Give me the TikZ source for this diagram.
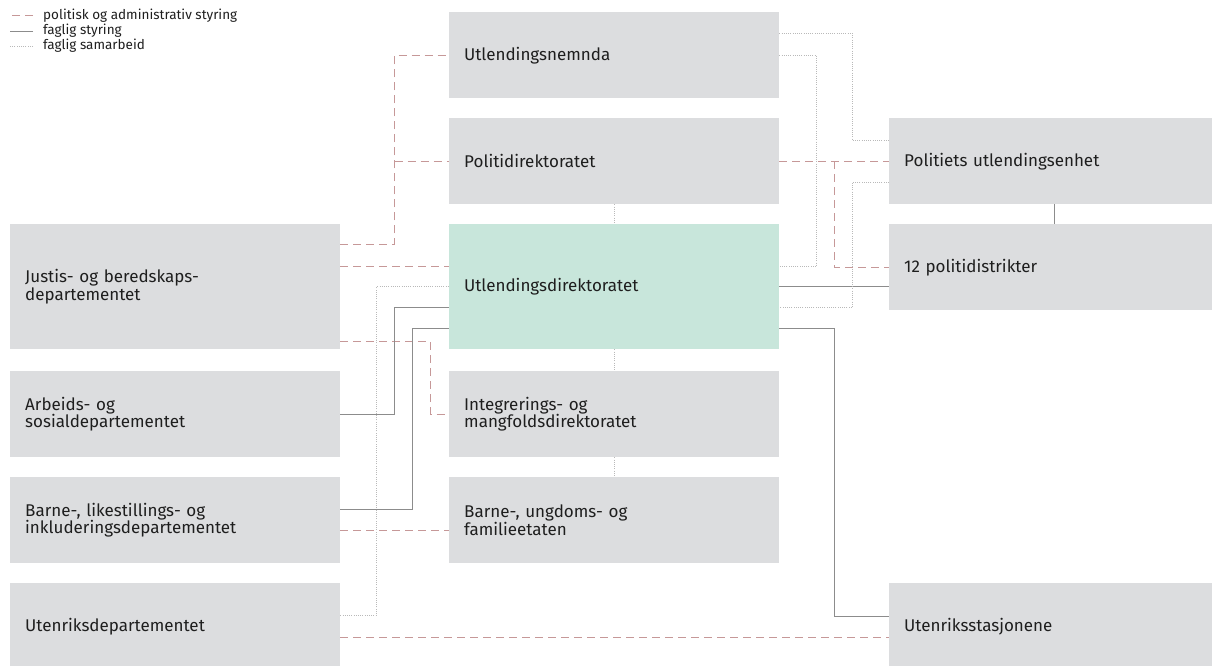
\documentclass[tikz,border=0pt]{standalone}
\usepackage{fontspec}
\setmainfont{Fira Sans}
\usetikzlibrary{calc}
\definecolor{boxgray}{RGB}{220,221,223}
\definecolor{udigreen}{RGB}{200,230,219}
\definecolor{polred}{RGB}{198,152,152}
\definecolor{fagline}{RGB}{140,140,140}
\definecolor{samline}{RGB}{185,185,185}
\definecolor{textdark}{RGB}{30,30,30}

\begin{document}
\begin{tikzpicture}[x=1pt, y=-1pt,
    orgbox/.style={rectangle, fill=boxgray, anchor=north west, text width=300pt, inner xsep=15pt, inner ysep=0pt, minimum height=86pt, align=left, text=textdark, font=\fontsize{17}{15.5}\selectfont},
    tallbox/.style={orgbox, minimum height=125pt},
    pol/.style={polred, line width=1pt, dash pattern=on 8pt off 5pt},
    fag/.style={fagline, line width=0.9pt},
    sam/.style={samline, line width=0.9pt, dash pattern=on 1pt off 1.2pt},
    legtext/.style={anchor=west, inner sep=0pt, text=textdark, font=\fontsize{13.5}{13.5}\selectfont}]
    \useasboundingbox (0,0) rectangle (1212,666);
    \clip (0,0) rectangle (1212,666);

    % Legend
    \node[legtext] (lpol) at (43,16) {politisk og administrativ styring};
    \node[legtext] (lfag) at (43,31) {faglig styring};
    \node[legtext] (lsam) at (43,46) {faglig samarbeid};
    \draw[pol] ([xshift=-10pt]lpol.west) -- ++(-23,0);
    \draw[fag] ([xshift=-10pt]lfag.west) -- ++(-23,0);
    \draw[sam] ([xshift=-10pt]lsam.west) -- ++(-23,0);

    % Middle column
    \node[orgbox] (une) at (449,12) {Utlendingsnemnda};
    \node[orgbox] (pod) at (449,118) {Politidirektoratet};
    \node[tallbox, fill=udigreen] (udi) at (449,224) {Utlendingsdirektoratet};
    \node[orgbox] (imdi) at (449,371) {Integrerings- og\\mangfoldsdirektoratet};
    \node[orgbox] (bufe) at (449,477) {Barne-, ungdoms- og\\familieetaten};

    % Ministries
    \node[tallbox] (jd) at (10,224) {Justis- og beredskaps-\\departementet};
    \node[orgbox] (asd) at (10,371) {Arbeids- og\\sosialdepartementet};
    \node[orgbox] (bld) at (10,477) {Barne-, likestillings- og\\inkluderingsdepartementet};
    \node[orgbox] (ud) at (10,583) {Utenriksdepartementet};

    % Right column
    \node[orgbox] (pu) at (889,118) {Politiets utlendingsenhet};
    \node[orgbox] (pd12) at (889,224) {12 politidistrikter};
    \node[orgbox] (us) at (889,583) {Utenriksstasjonene};

    % Routing columns and ports
    \coordinate (c1) at ($(jd.east)!.5!(udi.west)$);
    \coordinate (c0) at ([xshift=-18pt]c1);
    \coordinate (c2) at ([xshift=18pt]c1);
    \coordinate (c3) at ([xshift=36pt]c1);
    \coordinate (r1) at ($(udi.east)!.5!(pu.west)$);
    \coordinate (r0) at ([xshift=-18pt]r1);
    \coordinate (r2) at ([xshift=18pt]r1);
    \coordinate (udiw1) at ([yshift=20pt]udi.west);
    \coordinate (udiw3) at ([yshift=-21pt]udi.west);
    \coordinate (udiw4) at ([yshift=-42pt]udi.west);
    \coordinate (udie1) at ([yshift=20pt]udi.east);
    \coordinate (udie3) at ([yshift=-21pt]udi.east);
    \coordinate (udie4) at ([yshift=-42pt]udi.east);
    \coordinate (jd1) at ([yshift=-20pt]jd.north east);
    \coordinate (jd3) at ([yshift=8pt]jd.south east);
    \coordinate (bld1) at ([yshift=-32pt]bld.north east);
    \coordinate (bld2) at ([yshift=-53pt]bld.north east);
    \coordinate (ud1) at ([yshift=-32pt]ud.north east);
    \coordinate (ud2) at ([yshift=-54pt]ud.north east);
    \coordinate (us1) at ([yshift=-33pt]us.north west);
    \coordinate (une1) at ([yshift=22pt]une.east);
    \coordinate (pu1) at ([yshift=21pt]pu.west);
    \coordinate (pu2) at ([yshift=-21pt]pu.west);

    % politisk og administrativ styring
    \draw[pol] (jd1) -| (c1 |- une.west) -- (une.west);
    \draw[pol] (c1 |- pod.west) -- (pod.west);
    \draw[pol] (udiw1 -| jd.east) -- (udiw1);
    \draw[pol] (jd3) -| (c3 |- imdi.west) -- (imdi.west);
    \draw[pol] (bld2) -- (bld2 -| bufe.west);
    \draw[pol] (ud2) -- (ud2 -| us.west);
    \draw[pol] (pod.east) -- (pu.west);
    \draw[pol] (r1 |- pod.east) |- (pd12.west);

    % faglig styring
    \draw[fag] (asd.east) -| (c1 |- udiw3) -- (udiw3);
    \draw[fag] (bld1) -| (c2 |- udiw4) -- (udiw4);
    \draw[fag] (udi.east) -- (udi.east -| pd12.west);
    \draw[fag] (udie4) -| (r1 |- us1) -- (us1);
    \draw[fag] (pu.south) -- (pd12.north);

    % faglig samarbeid
    \draw[sam] (ud1) -| (c0 |- udi.west) -- (udi.west);
    \draw[sam] (une1) -| (r2 |- pu1) -- (pu1);
    \draw[sam] (une.east) -| (r0 |- udie1) -- (udie1);
    \draw[sam] (pu2) -| (r2 |- udie3) -- (udie3);
    \draw[sam] (pod.south) -- (udi.north);
    \draw[sam] (udi.south) -- (imdi.north);
    \draw[sam] (imdi.south) -- (bufe.north);
\end{tikzpicture}
\end{document}
